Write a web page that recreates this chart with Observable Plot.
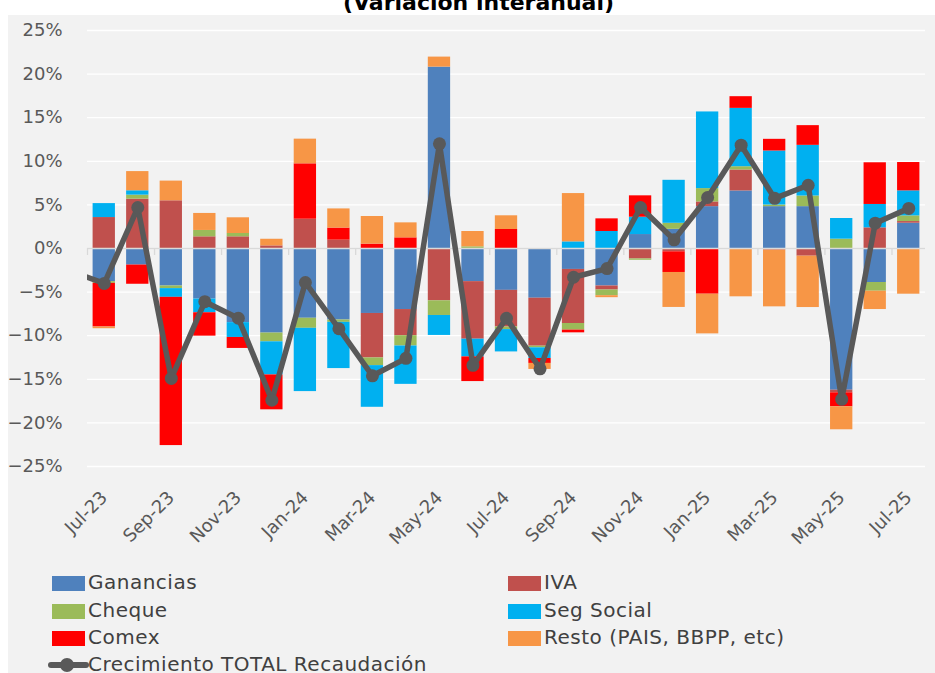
<!DOCTYPE html>
<html>
<head>
<meta charset="utf-8">
<script src="https://cdn.jsdelivr.net/npm/d3@7"></script>
<script src="https://cdn.jsdelivr.net/npm/@observablehq/plot@0.6"></script>
<style>
  body { margin: 0; background: #ffffff; width: 935px; height: 673px; overflow: hidden; position: relative; font-family: "DejaVu Sans", sans-serif; }
  #panel { position: absolute; left: 8px; top: 15px; width: 927px; height: 658px; background: #f2f2f2; }
  #titlebox { position: absolute; left: 11px; top: 0; width: 935px; height: 15px; overflow: hidden; }
  #title { position: absolute; left: 0; top: -8px; width: 100%; text-align: center; font-weight: bold; font-size: 22px; line-height: 22px; color: #000; }
  #chart { position: absolute; left: 0; top: 0; }
  .leg { position: absolute; font-size: 20px; letter-spacing: 0.5px; color: #404040; line-height: 20px; white-space: nowrap; }
  .sw { position: absolute; width: 33px; height: 15px; }
</style>
</head>
<body>
<div id="panel"></div>
<div id="titlebox"><div id="title">(Variación interanual)</div></div>
<div id="chart"></div>
<div id="legend"></div>
<script>
const months = ["Jul-23","Aug-23","Sep-23","Oct-23","Nov-23","Dec-23","Jan-24","Feb-24","Mar-24","Apr-24","May-24","Jun-24","Jul-24","Aug-24","Sep-24","Oct-24","Nov-24","Dec-24","Jan-25","Feb-25","Mar-25","Apr-25","May-25","Jun-25","Jul-25"];
const seriesNames = ["Ganancias","IVA","Cheque","Seg Social","Comex","Resto (PAIS, BBPP, etc)"];
const seriesColors = ["#4f81bd","#c0504d","#9bbb59","#00b0f0","#ff0000","#f79646"];
const lineName = "Crecimiento TOTAL Recaudación";
const lineColor = "#595959";

const ganancias = [-3.8,-1.9,-4.3,-5.8,-8.5,-9.7,-8.0,-8.2,-7.45,-7.0,20.8,-3.8,-4.8,-5.7,-2.4,-4.3,1.6,2.2,4.8,6.6,4.8,4.8,-16.25,-3.9,2.9];
const iva = [3.55,5.66,5.47,1.34,1.34,0.3,3.36,0.96,-5.1,-3.0,-6.0,-6.6,-4.2,-5.5,-6.2,-0.46,-1.2,-0.38,0.54,2.4,-0.19,-0.88,-0.3,2.37,0.19];
const cheque = [-0.2,0.46,-0.3,0.73,0.38,-1.0,-1.15,-0.27,-0.88,-1.18,-1.68,0.19,-0.3,-0.19,-0.76,-0.65,-0.15,0.69,1.53,0.38,0.19,1.22,1.07,-1.0,0.65];
const segSocial = [1.6,0.5,-1.0,-1.57,-1.7,-3.8,-7.26,-5.3,-4.78,-4.4,-2.29,-2.03,-2.56,-1.22,0.76,1.95,1.99,4.93,8.79,6.69,6.19,5.81,2.37,2.68,2.87];
const comex = [-5.0,-2.2,-17.0,-2.68,-1.26,-4.0,6.35,1.38,0.5,1.22,0,-2.83,2.18,-0.57,-0.31,1.45,2.45,-2.37,-5.24,1.34,1.34,2.26,-1.6,4.78,3.25];
const resto = [-0.2,2.2,2.26,1.95,1.8,0.76,2.83,2.2,3.17,1.72,1.15,1.76,1.57,-0.69,5.54,-0.23,0,-4.01,-4.55,-5.54,-6.5,-5.89,-2.64,-2.1,-5.24];
const total = [-4.0,4.7,-14.9,-6.1,-8.0,-17.4,-3.9,-9.2,-14.6,-12.6,12.0,-13.4,-8.0,-13.8,-3.3,-2.3,4.7,1.0,5.85,11.85,5.75,7.25,-17.3,2.9,4.6];
const totalPrevMonth = -2.6; // Jun-23, off the left edge of the chart
const yTicks = [-25,-20,-15,-10,-5,0,5,10,15,20,25];

const seriesValues = [ganancias, iva, cheque, segSocial, comex, resto];
const rows = [];
seriesNames.forEach((s, k) => seriesValues[k].forEach((v, i) => rows.push({i, month: months[i], serie: s, v})));
const lineRows = [{pos: -0.5, v: totalPrevMonth}].concat(total.map((v, i) => ({pos: i + 0.5, v})));
const dotRows = total.map((v, i) => ({pos: i + 0.5, v}));
const labelTicks = d3.range(0, months.length, 2).map(i => i + 0.5);
const pairBounds = d3.range(0, months.length, 2);

const chart = Plot.plot({
  width: 935,
  height: 566,
  marginLeft: 87,
  marginRight: 10,
  marginTop: 30,
  marginBottom: 100,
  style: {fontFamily: "DejaVu Sans, sans-serif", fontSize: "18px", color: "#595959", background: "transparent"},
  x: {domain: [0, months.length], ticks: labelTicks, tickFormat: v => months[Math.round(v - 0.5)], tickRotate: -45, tickSize: 0, tickPadding: 28, label: null},
  y: {domain: [-25, 25], ticks: yTicks, tickFormat: d => (d < 0 ? "\u2212" + (-d) : d) + "%", tickSize: 0, tickPadding: 25, label: null},
  color: {domain: seriesNames, range: seriesColors},
  marks: [
    Plot.ruleY(yTicks, {stroke: "#ffffff", strokeWidth: 1.3}),
    Plot.rectY(rows, {x: "i", interval: 1, y: "v", fill: "serie", insetLeft: 5.6, insetRight: 5.6}),
    Plot.ruleY([0], {stroke: "#d9d9d9", strokeWidth: 1.3}),
    Plot.ruleX(pairBounds, {y1: 0, y2: -0.8, stroke: "#d9d9d9", strokeWidth: 1.3}),
    Plot.line(lineRows, {x: "pos", y: "v", stroke: lineColor, strokeWidth: 5.5, clip: true}),
    Plot.dot(dotRows, {x: "pos", y: "v", r: 6.5, fill: lineColor, stroke: "none"})
  ]
});
document.getElementById("chart").appendChild(chart);

// Legend
const legend = document.getElementById("legend");
const legendItems = seriesNames.map((s, k) => ({name: s, color: seriesColors[k], col: k % 2, row: Math.floor(k / 2)}));
const colX = [52, 508];
const rowY = [583, 611, 638];
legendItems.forEach(it => {
  const sw = document.createElement("div");
  sw.className = "sw";
  sw.style.left = colX[it.col] + "px";
  sw.style.top = (rowY[it.row] - 7.5) + "px";
  sw.style.background = it.color;
  legend.appendChild(sw);
  const t = document.createElement("div");
  t.className = "leg";
  t.style.left = (colX[it.col] + 36) + "px";
  t.style.top = (rowY[it.row] - 11) + "px";
  t.textContent = it.name;
  legend.appendChild(t);
});
// line legend entry
const ly = 665;
const ln = document.createElement("div");
ln.style.cssText = `position:absolute;left:48px;top:${ly - 3}px;width:41px;height:6px;background:${lineColor};border-radius:3px;`;
legend.appendChild(ln);
const lc = document.createElement("div");
lc.style.cssText = `position:absolute;left:${67 - 7}px;top:${ly - 7}px;width:14px;height:14px;background:${lineColor};border-radius:50%;`;
legend.appendChild(lc);
const lt = document.createElement("div");
lt.className = "leg";
lt.style.left = "88px";
lt.style.top = (ly - 11) + "px";
lt.textContent = lineName;
legend.appendChild(lt);
</script>
</body>
</html>
